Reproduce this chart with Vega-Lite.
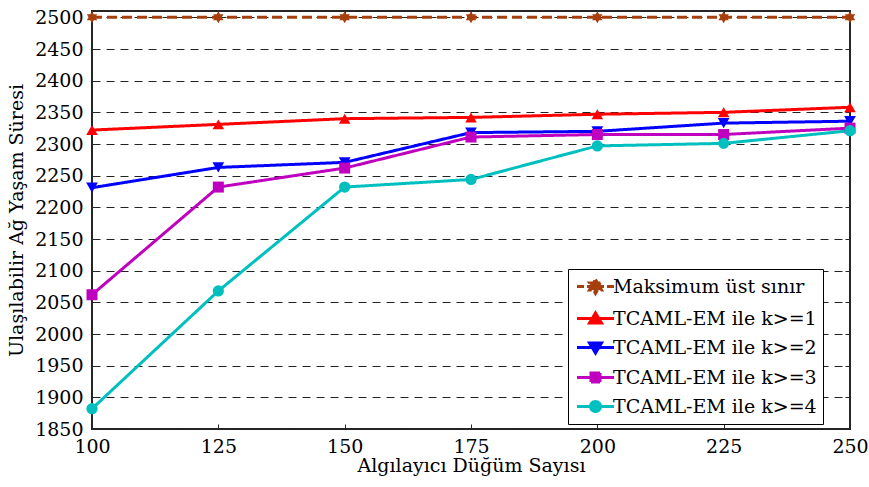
{
  "$schema": "https://vega.github.io/schema/vega-lite/v6.json",
  "width": 758,
  "height": 418,
  "autosize": {"type": "none"},
  "padding": {"left": 92, "top": 11, "right": 19, "bottom": 58},
  "background": "white",
  "config": {
    "font": "DejaVu Serif",
    "view": {"stroke": "#262626", "strokeWidth": 2},
    "axis": {
      "labelFont": "DejaVu Serif",
      "titleFont": "DejaVu Serif",
      "labelFontSize": 19,
      "titleFontSize": 19,
      "labelColor": "black",
      "titleColor": "black",
      "titleFontWeight": "normal",
      "labelFlush": false,
      "labelOverlap": false,
      "format": "d",
      "domain": false,
      "tickColor": "#262626",
      "tickSize": -5,
      "tickWidth": 1
    },
    "legend": {
      "labelFont": "DejaVu Serif",
      "labelFontSize": 19,
      "labelColor": "black"
    }
  },
  "data": {
    "values": [
      {"n": 100, "series": "Maksimum üst sınır", "value": 2500},
      {"n": 125, "series": "Maksimum üst sınır", "value": 2500},
      {"n": 150, "series": "Maksimum üst sınır", "value": 2500},
      {"n": 175, "series": "Maksimum üst sınır", "value": 2500},
      {"n": 200, "series": "Maksimum üst sınır", "value": 2500},
      {"n": 225, "series": "Maksimum üst sınır", "value": 2500},
      {"n": 250, "series": "Maksimum üst sınır", "value": 2500},
      {"n": 100, "series": "TCAML-EM ile k>=1", "value": 2322},
      {"n": 125, "series": "TCAML-EM ile k>=1", "value": 2331},
      {"n": 150, "series": "TCAML-EM ile k>=1", "value": 2340},
      {"n": 175, "series": "TCAML-EM ile k>=1", "value": 2342},
      {"n": 200, "series": "TCAML-EM ile k>=1", "value": 2347},
      {"n": 225, "series": "TCAML-EM ile k>=1", "value": 2350},
      {"n": 250, "series": "TCAML-EM ile k>=1", "value": 2358},
      {"n": 100, "series": "TCAML-EM ile k>=2", "value": 2231},
      {"n": 125, "series": "TCAML-EM ile k>=2", "value": 2263},
      {"n": 150, "series": "TCAML-EM ile k>=2", "value": 2271},
      {"n": 175, "series": "TCAML-EM ile k>=2", "value": 2318},
      {"n": 200, "series": "TCAML-EM ile k>=2", "value": 2320},
      {"n": 225, "series": "TCAML-EM ile k>=2", "value": 2333},
      {"n": 250, "series": "TCAML-EM ile k>=2", "value": 2336},
      {"n": 100, "series": "TCAML-EM ile k>=3", "value": 2062},
      {"n": 125, "series": "TCAML-EM ile k>=3", "value": 2232},
      {"n": 150, "series": "TCAML-EM ile k>=3", "value": 2262},
      {"n": 175, "series": "TCAML-EM ile k>=3", "value": 2311},
      {"n": 200, "series": "TCAML-EM ile k>=3", "value": 2315},
      {"n": 225, "series": "TCAML-EM ile k>=3", "value": 2315},
      {"n": 250, "series": "TCAML-EM ile k>=3", "value": 2325},
      {"n": 100, "series": "TCAML-EM ile k>=4", "value": 1882},
      {"n": 125, "series": "TCAML-EM ile k>=4", "value": 2068},
      {"n": 150, "series": "TCAML-EM ile k>=4", "value": 2232},
      {"n": 175, "series": "TCAML-EM ile k>=4", "value": 2244},
      {"n": 200, "series": "TCAML-EM ile k>=4", "value": 2297},
      {"n": 225, "series": "TCAML-EM ile k>=4", "value": 2301},
      {"n": 250, "series": "TCAML-EM ile k>=4", "value": 2321}
    ]
  },
  "layer": [
    {
      "mark": {"type": "line", "strokeWidth": 3},
      "encoding": {
        "x": {
          "field": "n", "type": "quantitative",
          "scale": {"domain": [100, 250], "nice": false, "zero": false},
          "axis": {"values": [100, 125, 150, 175, 200, 225, 250], "title": "Algılayıcı Düğüm Sayısı", "grid": false, "labelPadding": 13, "titlePadding": 0}
        },
        "y": {
          "field": "value", "type": "quantitative",
          "scale": {"domain": [1850, 2510], "nice": false, "zero": false},
          "axis": {
            "values": [1850, 1900, 1950, 2000, 2050, 2100, 2150, 2200, 2250, 2300, 2350, 2400, 2450, 2500],
            "title": "Ulaşılabilir Ağ Yaşam Süresi", "grid": true, "gridDash": [8, 6], "gridColor": "#222222", "gridWidth": 1,
            "labelPadding": 14, "titlePadding": 8
          }
        },
        "color": {
          "field": "series", "type": "nominal",
          "scale": {
            "domain": ["Maksimum üst sınır", "TCAML-EM ile k>=1", "TCAML-EM ile k>=2", "TCAML-EM ile k>=3", "TCAML-EM ile k>=4"],
            "range": ["#a63f0c", "#ff0000", "#0000ff", "#bf00bf", "#00bfbf"]
          },
          "legend": {
            "title": null,
            "orient": "none",
            "legendX": 476,
            "legendY": 258,
            "padding": 6,
            "symbolOffset": 10,
            "labelOffset": 6,
            "rowPadding": 7,
            "labelLimit": 400,
            "symbolSize": 400,
            "symbolStrokeWidth": 3,
            "strokeColor": "black",
            "fillColor": "white",
            "cornerRadius": 0,
            "encode": {
              "symbols": {
                "update": {
                  "shape": {"signal": "datum.value === 'Maksimum üst sınır' ? 'M-1.85,0H1.85M0,-0.7L0.202,-0.35L0.606,-0.35L0.404,0L0.606,0.35L0.202,0.35L0,0.7L-0.202,0.35L-0.606,0.35L-0.404,0L-0.606,-0.35L-0.202,-0.35Z' : datum.value === 'TCAML-EM ile k>=1' ? 'M-1.85,0H1.85M0,-0.55L0.6,0.45L-0.6,0.45Z' : datum.value === 'TCAML-EM ile k>=2' ? 'M-1.85,0H1.85M0,0.55L0.6,-0.45L-0.6,-0.45Z' : datum.value === 'TCAML-EM ile k>=3' ? 'M-1.85,0H1.85M-0.45,-0.45H0.45V0.45H-0.45Z' : 'M-1.85,0H1.85M-0.5,0A0.5,0.5,0,1,0,0.5,0A0.5,0.5,0,1,0,-0.5,0Z'"},
                  "fill": {"scale": "color", "field": "value"},
                  "stroke": {"scale": "color", "field": "value"},
                  "size": {"value": 400},
                  "strokeWidth": {"value": 3},
                  "opacity": {"value": 1},
                  "strokeDash": {"signal": "datum.value === 'Maksimum üst sınır' ? [7, 3] : [1, 0]"}
                }
              }
            }
          }
        },
        "strokeDash": {
          "field": "series", "type": "nominal",
          "scale": {
            "domain": ["TCAML-EM ile k>=4", "TCAML-EM ile k>=3", "TCAML-EM ile k>=2", "TCAML-EM ile k>=1", "Maksimum üst sınır"],
            "range": [[1, 0], [1, 0], [1, 0], [1, 0], [10, 5]]
          },
          "legend": null
        }
      }
    },
    {
      "mark": {"type": "point", "filled": true, "opacity": 1},
      "encoding": {
        "x": {
          "field": "n", "type": "quantitative",
          "axis": {"orient": "top", "values": [100, 125, 150, 175, 200, 225, 250], "labels": false, "title": null, "grid": false}
        },
        "y": {
          "field": "value", "type": "quantitative",
          "axis": {"orient": "right", "values": [1850, 1900, 1950, 2000, 2050, 2100, 2150, 2200, 2250, 2300, 2350, 2400, 2450, 2500], "labels": false, "title": null, "grid": false}
        },
        "color": {"field": "series", "type": "nominal"},
        "shape": {
          "field": "series", "type": "nominal",
          "scale": {
            "domain": ["TCAML-EM ile k>=4", "TCAML-EM ile k>=3", "TCAML-EM ile k>=2", "TCAML-EM ile k>=1", "Maksimum üst sınır"],
            "range": ["circle", "square", "triangle-down", "triangle-up", "M0,-1L0.289,-0.5L0.866,-0.5L0.577,0L0.866,0.5L0.289,0.5L0,1L-0.289,0.5L-0.866,0.5L-0.577,0L-0.866,-0.5L-0.289,-0.5Z"]
          },
          "legend": null
        },
        "size": {
          "field": "series", "type": "nominal",
          "scale": {
            "domain": ["TCAML-EM ile k>=3", "TCAML-EM ile k>=4", "TCAML-EM ile k>=1", "TCAML-EM ile k>=2", "Maksimum üst sınır"],
            "range": [121, 144, 180, 180, 230]
          },
          "legend": null
        }
      }
    }
  ],
  "resolve": {"axis": {"x": "independent", "y": "independent"}}
}
